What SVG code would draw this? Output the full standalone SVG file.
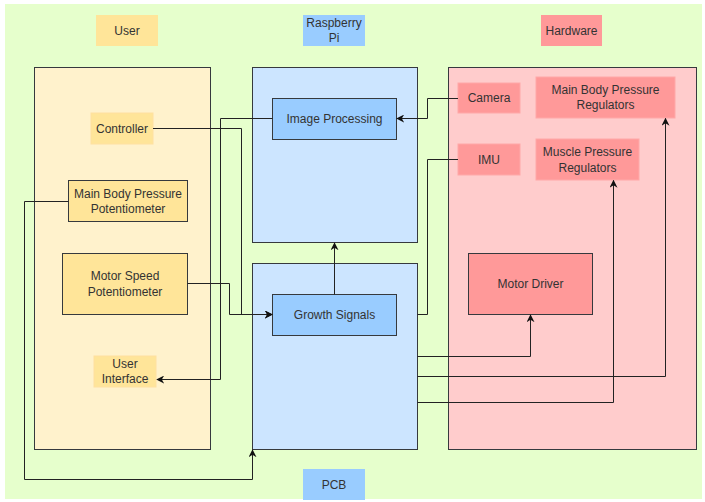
<svg xmlns="http://www.w3.org/2000/svg" width="705" height="502" viewBox="0 0 705 502">
<style>
text{font-family:"Liberation Sans",Arial,sans-serif;font-size:12px;fill:#333;text-anchor:middle;dominant-baseline:central}
.cu{fill:#FFF2CC;stroke:#36393d;stroke-width:1}
.cb{fill:#CCE5FF;stroke:#36393d;stroke-width:1}
.ch{fill:#FFCCCC;stroke:#36393d;stroke-width:1}
.ny{fill:#FFE599;stroke:#36393d;stroke-width:1}
.nyl{fill:#FFE599;stroke:#FFE0A0;stroke-width:1}
.nb{fill:#99CCFF;stroke:#36393d;stroke-width:1}
.nbl{fill:#99CCFF;stroke:#A8D0F8;stroke-width:1}
.nr{fill:#FF9999;stroke:#36393d;stroke-width:1}
.nrl{fill:#FF9999;stroke:#FFA8A8;stroke-width:1}
.e{fill:none;stroke:#222;stroke-width:1}
</style>
<defs>
<marker id="ah" viewBox="0 0 10 10" refX="9" refY="5" markerWidth="8" markerHeight="8" markerUnits="userSpaceOnUse" orient="auto">
<path d="M0,0 L10,5 L0,10 L3,5 Z" fill="#111"/>
</marker>
</defs>
<rect x="5" y="4" width="697" height="495" fill="#E6FFCC"/>
<g id="user-container"><rect class="cu" x="34.5" y="67.5" width="176" height="382"/></g>
<g id="rpi-container"><rect class="cb" x="252.5" y="67.5" width="165" height="175"/></g>
<g id="pcb-container"><rect class="cb" x="252.5" y="263.5" width="165" height="186"/></g>
<g id="hardware-container"><rect class="ch" x="448.5" y="67.5" width="248" height="382"/></g>
<g id="label-user"><rect x="96" y="15" width="62" height="31" fill="#FFE599"/><text x="127" y="30.5">User</text></g>
<g id="label-rpi"><rect x="303" y="15" width="62" height="31" fill="#99CCFF"/><text x="334" y="23">Raspberry</text><text x="334" y="38">Pi</text></g>
<g id="label-hardware"><rect x="541" y="15" width="61" height="31" fill="#FF9999"/><text x="571.5" y="30.5">Hardware</text></g>
<g id="label-pcb"><rect x="303" y="469" width="62" height="31" fill="#99CCFF"/><text x="334" y="485">PCB</text></g>
<g id="controller"><rect class="nyl" x="91" y="113" width="62" height="31"/><text x="122" y="128.5">Controller</text></g>
<g id="mbp-potentiometer"><rect class="ny" x="68.5" y="180.5" width="119" height="41"/><text x="128" y="193.5">Main Body Pressure</text><text x="128" y="208.5">Potentiometer</text></g>
<g id="motor-speed-potentiometer"><rect class="ny" x="62.5" y="253.5" width="125" height="61"/><text x="125" y="276">Motor Speed</text><text x="125" y="291.5">Potentiometer</text></g>
<g id="user-interface"><rect class="nyl" x="94" y="356" width="62" height="31"/><text x="125" y="364">User</text><text x="125" y="379">Interface</text></g>
<g id="image-processing"><rect class="nb" x="272.5" y="98.5" width="124" height="41"/><text x="334.5" y="118.5">Image Processing</text></g>
<g id="growth-signals"><rect class="nb" x="272.5" y="294.5" width="124" height="41"/><text x="334.5" y="314.5">Growth Signals</text></g>
<g id="camera"><rect class="nrl" x="458" y="83" width="62" height="30"/><text x="489" y="98">Camera</text></g>
<g id="imu"><rect class="nrl" x="458" y="144" width="62" height="31"/><text x="489" y="159.5">IMU</text></g>
<g id="mbp-regulators"><rect class="nrl" x="536" y="77" width="139" height="41"/><text x="605.5" y="90">Main Body Pressure</text><text x="605.5" y="105">Regulators</text></g>
<g id="muscle-regulators"><rect class="nrl" x="536" y="139" width="103" height="41"/><text x="587.5" y="152">Muscle Pressure</text><text x="587.5" y="167.5">Regulators</text></g>
<g id="motor-driver"><rect class="nr" x="468.5" y="253.5" width="124" height="61"/><text x="530.5" y="283.5">Motor Driver</text></g>
<g id="connectors">
<path class="e" d="M458,98.5 H427.5 V118.5 H397" marker-end="url(#ah)"/>
<path class="e" d="M458,159.5 H427.5 V314.5 H417.5"/>
<path class="e" d="M272.5,118.5 H220.5 V379.5 H157" marker-end="url(#ah)"/>
<path class="e" d="M153,128.5 H241.5 V314.5 H272" marker-end="url(#ah)"/>
<path class="e" d="M187.5,283.5 H229.5 V314.5 H272" marker-end="url(#ah)"/>
<path class="e" d="M334.5,294.5 V243" marker-end="url(#ah)"/>
<path class="e" d="M68.5,201.5 H24.5 V479.5 H252.5 V450" marker-end="url(#ah)"/>
<path class="e" d="M417.5,356.5 H530.5 V315" marker-end="url(#ah)"/>
<path class="e" d="M417.5,376.5 H665.5 V118.5" marker-end="url(#ah)"/>
<path class="e" d="M417.5,402.5 H613.5 V180.5" marker-end="url(#ah)"/>
</g>
</svg>
